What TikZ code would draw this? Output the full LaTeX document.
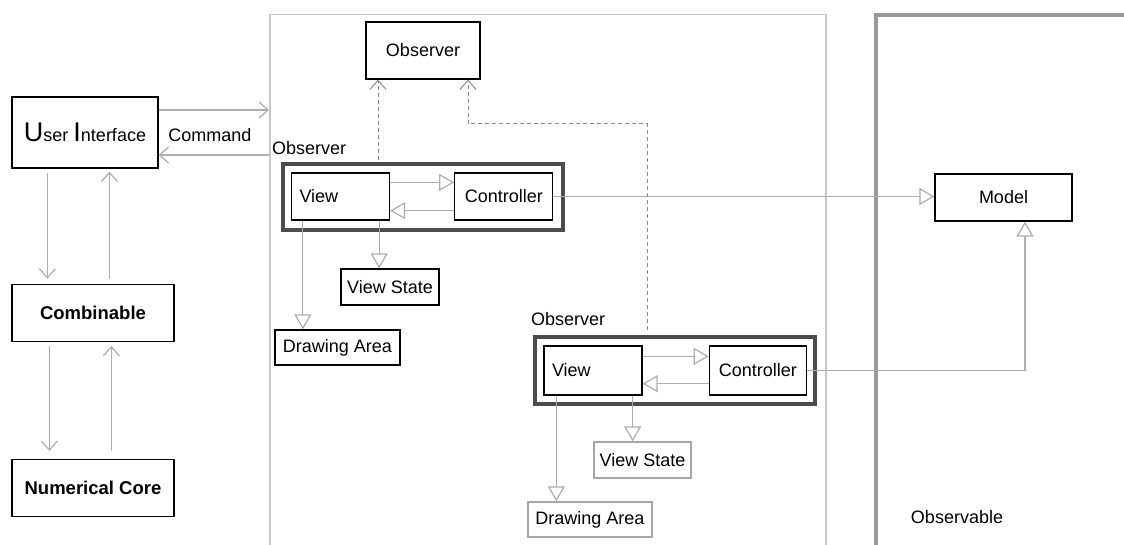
\documentclass[tikz,border=0pt]{standalone}
\usepackage{fontspec}
\setmainfont{Liberation Sans}
\usetikzlibrary{arrows.meta,positioning}

\begin{document}
\begin{tikzpicture}[x=1pt,y=-1pt,font=\fontsize{18}{21}\selectfont,
box/.style={draw,line width=1.3pt,align=center,inner sep=0pt},
pale/.style={box,draw=black!35},
grp/.style={draw=black!70,line width=4pt,inner sep=0pt},
bold/.style={font=\fontsize{18.5}{21}\selectfont\bfseries},
tri/.style={draw=black!32,line width=1.2pt,-{Triangle[open,length=15pt,width=17pt,fill=white]}},
vee/.style={draw=black!32,line width=1.2pt,-{Straight Barb[length=9pt,width=16pt]}},
dvee/.style={vee,draw=black!45,line width=1pt,dash pattern=on 4pt off 3pt}]
\clip (0,0) rectangle (1124,545);
% frames
\node[draw=black!22,line width=1.5pt,inner sep=0pt,anchor=north west,minimum width=556pt,minimum height=560pt] (mvc) at (269,14) {};
\draw[black!40,line width=4pt] (876,570) -- (876,15) -- (1140,15);
\node (obsl) at (957,517) {Observable};
% left column
\node[box,minimum width=146pt,minimum height=71pt] (ui) at (85,132.5) {{\fontsize{27}{27}\selectfont U}ser {\fontsize{27}{27}\selectfont I}nterface};
\node[box,bold,minimum width=162pt,minimum height=57pt,below=115pt of ui.south west,anchor=north west] (comb) {Combinable};
\node[box,bold,minimum width=162pt,minimum height=57pt,below=117pt of comb.south west,anchor=north west] (core) {Numerical Core};
\node (cmd) at (210,135) {Command};
% observer
\node[box,minimum width=114pt,minimum height=57pt] (obs) at (423,50.5) {Observer};
% first view
\node[grp,minimum width=280pt,minimum height=66pt] (grp1) at (423,197) {};
\node[anchor=base west,inner sep=0pt] (lab1) at ([xshift=-9pt,yshift=7pt]grp1.north west) {Observer};
\node[box,minimum width=98pt,minimum height=47pt,text width=82pt,align=left] (view1) at (340.5,196.5) {View};
\node[box,minimum width=98pt,minimum height=47pt,right=64pt of view1] (ctrl1) {Controller};
\node[box,minimum width=98pt,minimum height=36pt] (state1) at (390,287) {View State};
\node[box,minimum width=125pt,minimum height=35pt] (area1) at (337.5,347.5) {Drawing Area};
% second view
\node[grp,minimum width=280pt,minimum height=67pt] (grp2) at (675,370.5) {};
\node[anchor=base west,inner sep=0pt] (lab2) at ([xshift=-2pt,yshift=10pt]grp2.north west) {Observer};
\node[box,minimum width=98pt,minimum height=49pt,text width=82pt,align=left] (view2) at (593,370.5) {View};
\node[box,minimum width=97pt,minimum height=49pt,right=66pt of view2] (ctrl2) {Controller};
\node[pale,minimum width=97pt,minimum height=36pt] (state2) at (642.5,460) {View State};
\node[pale,minimum width=124pt,minimum height=35pt] (area2) at (590,519.5) {Drawing Area};
% model
\node[box,minimum width=137pt,minimum height=47pt] (model) at (1003.5,197.5) {Model};
% connectors
\draw[vee] ([yshift=22.5pt]ui.east) -- ([yshift=22.5pt]ui.east -| mvc.west);
\draw[vee] ([yshift=-22.5pt]ui.east -| mvc.west) -- ([yshift=-22.5pt]ui.east);
\draw[vee,shorten <=4pt,shorten >=5pt] ([xshift=36pt]ui.south west) -- ([xshift=36pt]ui.south west |- comb.north);
\draw[vee,shorten <=5pt,shorten >=3pt] ([xshift=98pt]comb.north west) -- ([xshift=98pt]comb.north west |- ui.south);
\draw[vee,shorten <=4pt,shorten >=8pt] ([xshift=38pt]comb.south west) -- ([xshift=38pt]comb.south west |- core.north);
\draw[vee,shorten <=8pt,shorten >=4pt] ([xshift=100pt]core.north west) -- ([xshift=100pt]core.north west |- comb.south);
\draw[tri] ([yshift=-10pt]view1.north east) -- ([yshift=-10pt]view1.north east -| ctrl1.west);
\draw[tri] ([yshift=10pt]ctrl1.south west) -- ([yshift=10pt]ctrl1.south west -| view1.east);
\draw[tri] ([xshift=-11pt]view1.south east) -- ([xshift=-11pt]view1.south east |- state1.north);
\draw[tri] ([xshift=12pt]view1.south west) -- ([xshift=12pt]view1.south west |- area1.north);
\draw[tri] (ctrl1.east) -- (ctrl1.east -| model.west);
\draw[tri] ([yshift=-11pt]view2.north east) -- ([yshift=-11pt]view2.north east -| ctrl2.west);
\draw[tri] ([yshift=12pt]ctrl2.south west) -- ([yshift=12pt]ctrl2.south west -| view2.east);
\draw[tri] ([xshift=-10pt]view2.south east) -- ([xshift=-10pt]view2.south east |- state2.north);
\draw[tri] ([xshift=13pt]view2.south west) -- ([xshift=13pt]view2.south west |- area2.north);
\draw[tri] (ctrl2.east) -| ([xshift=21.5pt]model.south);
\draw[dvee,shorten <=2pt] ([xshift=-45pt]obs.south |- grp1.north) -- ([xshift=-45pt]obs.south);
\draw[dvee,shorten <=5pt] ([xshift=-28pt]grp2.north) |- ([xshift=45pt,yshift=-44pt]obs.south) -- ([xshift=45pt]obs.south);
\end{tikzpicture}
\end{document}
